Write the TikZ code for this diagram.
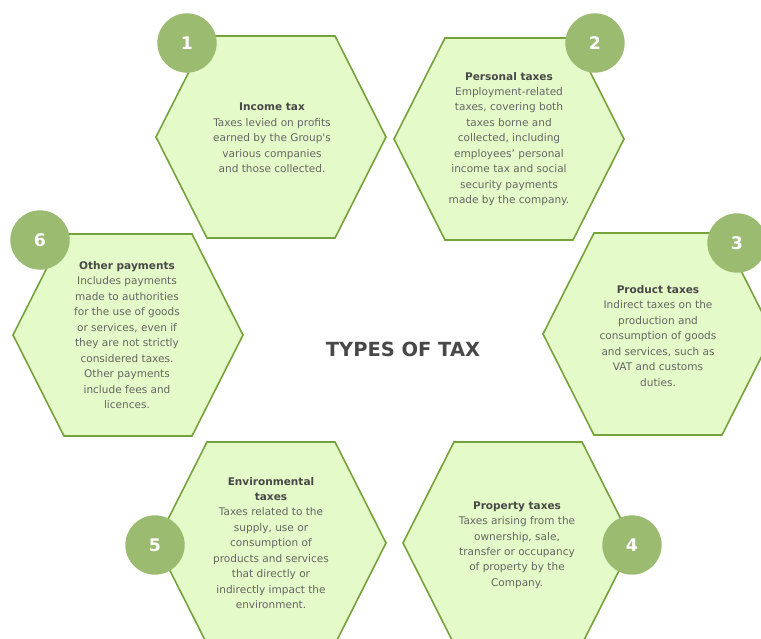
\documentclass[tikz,border=0pt]{standalone}
\usepackage{fontspec}
\setmainfont{DejaVu Sans}
\definecolor{hexfill}{HTML}{E4FAC8}
\definecolor{hexline}{HTML}{76A23C}
\definecolor{badge}{HTML}{9BBB70}
\definecolor{bodytext}{HTML}{666666}
\definecolor{headtext}{HTML}{484848}
\begin{document}
\begin{tikzpicture}[x=0.75pt,y=-0.75pt,
  hexcell/.pic={\path[fill=hexfill,draw=hexline,line width=1.2pt,line join=miter]
      (-115,0) -- (-64,-101) -- (64,-101) -- (115,0) -- (64,101) -- (-64,101) -- cycle;},
  badgecircle/.style={circle,fill=badge,minimum size=44.5pt,inner sep=0pt,
      text=white,font=\fontsize{13pt}{15pt}\selectfont\bfseries},
  blurb/.style={align=center,text=bodytext,inner sep=0pt,
      font=\fontsize{7.9pt}{11.6pt}\selectfont},
  title/.style={text=headtext,font=\fontsize{14.6pt}{16pt}\selectfont\bfseries}]
\useasboundingbox (0,0) rectangle (761,639);
\begin{scope}
\clip (0,0) rectangle (761,639);
% hexagonal cells
\pic at (271,137) {hexcell};
\pic at (509,139) {hexcell};
\pic at (658,334) {hexcell};
\pic at (518,543) {hexcell};
\pic at (271,543) {hexcell};
\pic at (128,335) {hexcell};
% numbered badges
\node[badgecircle] (b1) at (187,43) {1};
\node[badgecircle] (b2) at (595,43) {2};
\node[badgecircle] (b3) at (737,243) {3};
\node[badgecircle] (b4) at (632,545) {4};
\node[badgecircle] (b5) at (155,545) {5};
\node[badgecircle] (b6) at (40,240) {6};
\end{scope}
% texts
\node[title] (centre) at (403,349) {TYPES OF TAX};
\node[blurb] (t1) at (272,138) {\textcolor{headtext}{\bfseries Income tax}\\Taxes levied on profits\\earned by the Group\textquotesingle s\\various companies\\and those collected.};
\node[blurb] (t2) at (509,139) {\textcolor{headtext}{\bfseries Personal taxes}\\Employment-related\\taxes, covering both\\taxes borne and\\collected, including\\employees’ personal\\income tax and social\\security payments\\made by the company.};
\node[blurb] (t3) at (658,336) {\textcolor{headtext}{\bfseries Product taxes}\\Indirect taxes on the\\production and\\consumption of goods\\and services, such as\\VAT and customs\\duties.};
\node[blurb] (t4) at (517,545) {\textcolor{headtext}{\bfseries Property taxes}\\Taxes arising from the\\ownership, sale,\\transfer or occupancy\\of property by the\\Company.};
\node[blurb] (t5) at (271,543) {\textcolor{headtext}{\bfseries Environmental}\\\textcolor{headtext}{\bfseries taxes}\\Taxes related to the\\supply, use or\\consumption of\\products and services\\that directly or\\indirectly impact the\\environment.};
\node[blurb] (t6) at (127,335) {\textcolor{headtext}{\bfseries Other payments}\\Includes payments\\made to authorities\\for the use of goods\\or services, even if\\they are not strictly\\considered taxes.\\Other payments\\include fees and\\licences.};
\end{tikzpicture}
\end{document}
